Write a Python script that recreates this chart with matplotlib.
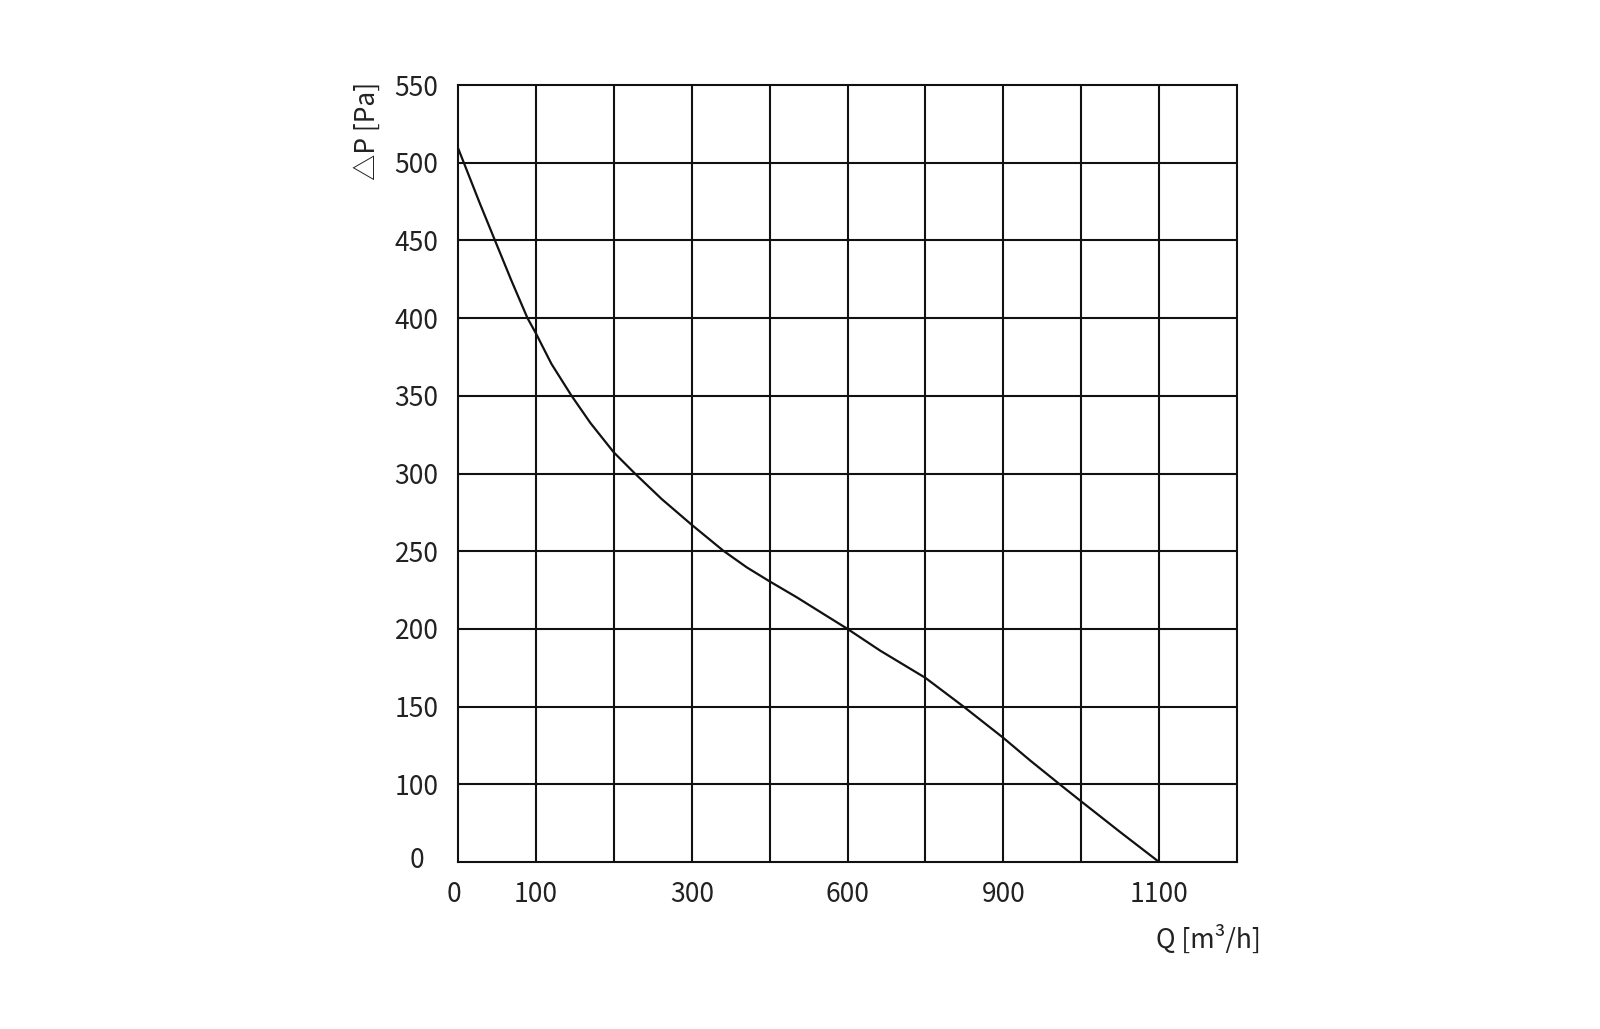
import matplotlib
matplotlib.use("Agg")
import matplotlib.pyplot as plt
from matplotlib.transforms import ScaledTranslation

plt.rcParams['font.family'] = ['Noto Sans CJK SC', 'DejaVu Sans']

# Curve (x in grid units x100, y in axis units; bottom line = "0")
q_vals = [0, 27.9, 47.2, 68.6, 89.2, 100, 120, 145.8, 170, 200, 227.1,
          261.4, 300, 340.6, 370.7, 400, 435, 469.2, 500, 542, 600, 649,
          700, 734.8, 773.4, 800, 850.5, 900]
p_vals = [509.5, 474, 450.3, 424.1, 400, 390.2, 370.5, 350, 332.5, 313.6, 300,
          283.6, 267, 250.3, 239.6, 230.6, 220.3, 209.6, 200, 186, 168.5, 150,
          129.9, 115.2, 99.6, 89, 69.1, 50]

x_tick_pos = [0, 100, 300, 500, 700, 900]
x_tick_labels = ['0', '100', '300', '600', '900', '1100']
y_tick_pos = [50, 100, 150, 200, 250, 300, 350, 400, 450, 500, 550]
y_tick_labels = ['0', '100', '150', '200', '250', '300', '350', '400', '450', '500', '550']

text_color = '#222222'
line_color = '#111111'

fig = plt.figure(figsize=(16, 10.29), dpi=100)
ax = fig.add_axes([0.28625, 0.16229, 0.486875, 0.75510])

ax.set_xlim(0, 1000)
ax.set_ylim(50, 550)

for gx in range(100, 1000, 100):
    ax.axvline(gx, color=line_color, lw=1.5, zorder=1)
for gy in range(100, 550, 50):
    ax.axhline(gy, color=line_color, lw=1.5, zorder=1)

ax.plot(q_vals, p_vals, color=line_color, lw=1.6, zorder=3,
        solid_joinstyle='round', solid_capstyle='round')

for s in ax.spines.values():
    s.set_color(line_color)
    s.set_linewidth(1.5)

fs = 19
ax.set_xticks(x_tick_pos)
ax.set_xticklabels(x_tick_labels)
ax.set_yticks(y_tick_pos)
ax.set_yticklabels(y_tick_labels)
ax.tick_params(axis='both', length=0, labelsize=fs, colors=text_color)
ax.tick_params(axis='x', pad=14)
ax.tick_params(axis='y', pad=14)

# the "0" on the y axis sits a little further left and higher
lbl0 = ax.get_yticklabels()[0]
lbl0.set_transform(lbl0.get_transform() + ScaledTranslation(-0.14, 0.05, fig.dpi_scale_trans))
xl0 = ax.get_xticklabels()[0]
xl0.set_transform(xl0.get_transform() + ScaledTranslation(-0.04, 0, fig.dpi_scale_trans))

ax.set_ylabel('△P [Pa]', fontsize=fs, color=text_color, va='center', ha='center')
ax.yaxis.set_label_coords(-0.117, 0.941)
ax.set_xlabel('Q [m³/h]', fontsize=fs, color=text_color, va='center', ha='center')
ax.xaxis.set_label_coords(0.963, -0.099)

fig.savefig('out.png', dpi=100, facecolor='white')
